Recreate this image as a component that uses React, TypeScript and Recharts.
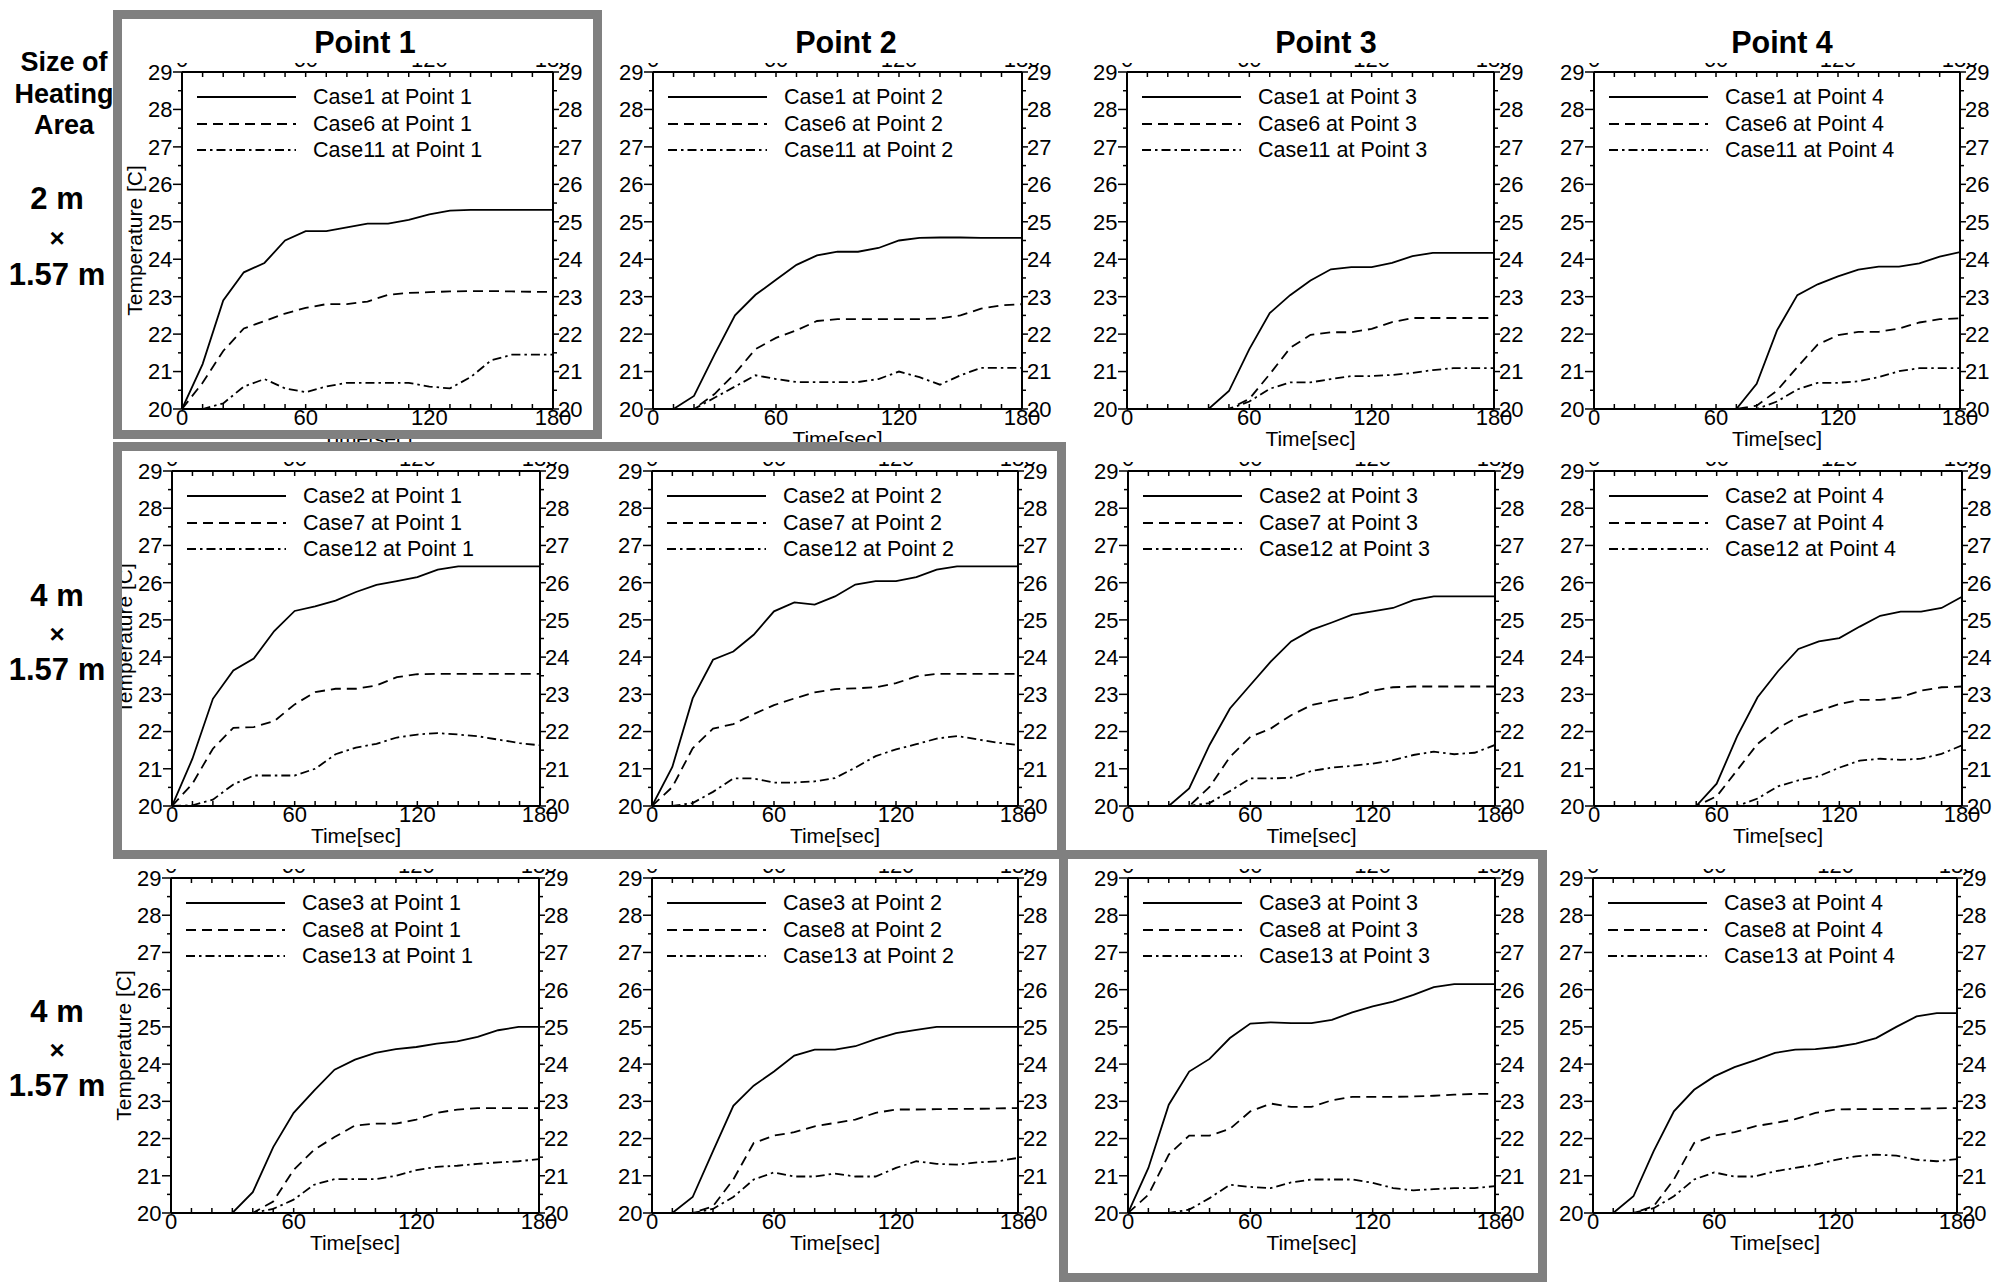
import React from 'react';
import { LineChart, Line, XAxis, YAxis, Legend } from 'recharts';

const FONT = "'Liberation Sans', Arial, Helvetica, sans-serif";

// ---------- data ----------
const TIME = [0, 10, 20, 30, 40, 50, 60, 70, 80, 90, 100, 110, 120, 130, 140, 150, 160, 170, 180];
const X_TICKS = [0, 10, 20, 30, 40, 50, 60, 70, 80, 90, 100, 110, 120, 130, 140, 150, 160, 170, 180];
const X_TICK_LABELS = [0, 60, 120, 180];
const Y_TICKS = [20, 20.5, 21, 21.5, 22, 22.5, 23, 23.5, 24, 24.5, 25, 25.5, 26, 26.5, 27, 27.5, 28, 28.5, 29];
const Y_TICK_LABELS = [20, 21, 22, 23, 24, 25, 26, 27, 28, 29];
const POINTS = ['Point 1', 'Point 2', 'Point 3', 'Point 4'];
const CASES = [
  ['Case1', 'Case6', 'Case11'],
  ['Case2', 'Case7', 'Case12'],
  ['Case3', 'Case8', 'Case13'],
];
const ROW_SIZE_TOP = ['2 m', '4 m', '4 m'];
const ROW_SIZE_BOTTOM = ['1.57 m', '1.57 m', '1.57 m'];

// Row 1 : 2 m x 1.57 m
const C1P1 = [20, 21.2, 22.9, 23.65, 23.9, 24.5, 24.75, 24.75, 24.85, 24.95, 24.95, 25.05, 25.2, 25.3, 25.32, 25.32, 25.32, 25.32, 25.32];
const C6P1 = [20, 20.7, 21.55, 22.15, 22.35, 22.55, 22.7, 22.8, 22.8, 22.87, 23.05, 23.1, 23.12, 23.14, 23.15, 23.15, 23.14, 23.13, 23.13];
const C11P1 = [20, 20, 20.15, 20.6, 20.8, 20.55, 20.45, 20.6, 20.7, 20.7, 20.7, 20.7, 20.6, 20.55, 20.85, 21.3, 21.45, 21.45, 21.45];

const C1P2 = [20, 20, 20.35, 21.45, 22.5, 23.05, 23.45, 23.85, 24.1, 24.2, 24.2, 24.3, 24.5, 24.57, 24.58, 24.58, 24.57, 24.57, 24.57];
const C6P2 = [20, 20, 20, 20.4, 20.95, 21.6, 21.9, 22.1, 22.35, 22.4, 22.4, 22.4, 22.4, 22.4, 22.42, 22.5, 22.68, 22.77, 22.8];
const C11P2 = [20, 20, 20, 20.3, 20.6, 20.9, 20.8, 20.72, 20.72, 20.72, 20.72, 20.8, 21.0, 20.85, 20.65, 20.9, 21.1, 21.1, 21.1];

const C1P3 = [20, 20, 20, 20, 20, 20.48, 21.6, 22.56, 23.04, 23.43, 23.73, 23.79, 23.79, 23.9, 24.08, 24.17, 24.17, 24.17, 24.17];
const C6P3 = [20, 20, 20, 20, 20, 20, 20.27, 20.93, 21.63, 21.98, 22.05, 22.05, 22.14, 22.32, 22.43, 22.43, 22.43, 22.43, 22.43];
const C11P3 = [20, 20, 20, 20, 20, 20, 20.2, 20.54, 20.71, 20.71, 20.8, 20.88, 20.88, 20.91, 20.96, 21.04, 21.09, 21.09, 21.09];

const C1P4 = [20, 20, 20, 20, 20, 20, 20, 20, 20.67, 22.1, 23.04, 23.33, 23.54, 23.72, 23.8, 23.8, 23.89, 24.07, 24.19];
const C6P4 = [20, 20, 20, 20, 20, 20, 20, 20, 20.09, 20.49, 21.12, 21.72, 21.97, 22.06, 22.06, 22.15, 22.31, 22.4, 22.42];
const C11P4 = [20, 20, 20, 20, 20, 20, 20, 20, 20, 20.2, 20.52, 20.7, 20.7, 20.74, 20.85, 21.01, 21.09, 21.09, 21.09];

// Row 2 : 4 m x 1.57 m
const C2P1 = [20, 21.27, 22.88, 23.64, 23.96, 24.7, 25.24, 25.36, 25.52, 25.75, 25.94, 26.04, 26.15, 26.35, 26.44, 26.44, 26.44, 26.44, 26.44];
const C7P1 = [20, 20.6, 21.54, 22.1, 22.12, 22.28, 22.73, 23.06, 23.15, 23.15, 23.24, 23.46, 23.54, 23.55, 23.55, 23.55, 23.55, 23.55, 23.55];
const C12P1 = [20, 20.02, 20.17, 20.58, 20.82, 20.82, 20.82, 21.0, 21.39, 21.57, 21.67, 21.84, 21.92, 21.96, 21.92, 21.87, 21.78, 21.69, 21.63];

const C2P2 = [20, 21.05, 22.89, 23.93, 24.15, 24.6, 25.23, 25.47, 25.41, 25.63, 25.95, 26.04, 26.04, 26.15, 26.35, 26.44, 26.44, 26.44, 26.44];
const C7P2 = [20, 20.51, 21.55, 22.08, 22.2, 22.47, 22.71, 22.89, 23.05, 23.14, 23.16, 23.19, 23.3, 23.48, 23.55, 23.55, 23.55, 23.55, 23.55];
const C12P2 = [20, 20, 20.08, 20.38, 20.74, 20.74, 20.63, 20.63, 20.66, 20.75, 21.03, 21.34, 21.52, 21.66, 21.81, 21.88, 21.79, 21.7, 21.64];

const C2P3 = [20, 20, 20, 20.47, 21.64, 22.62, 23.25, 23.88, 24.42, 24.73, 24.93, 25.14, 25.23, 25.32, 25.53, 25.63, 25.63, 25.63, 25.63];
const C7P3 = [20, 20, 20, 20, 20.51, 21.32, 21.86, 22.08, 22.44, 22.71, 22.83, 22.92, 23.1, 23.19, 23.21, 23.21, 23.21, 23.21, 23.21];
const C12P3 = [20, 20, 20, 20, 20.08, 20.4, 20.74, 20.74, 20.76, 20.94, 21.03, 21.08, 21.14, 21.23, 21.37, 21.46, 21.39, 21.43, 21.64];

const C2P4 = [20, 20, 20, 20, 20, 20, 20.6, 21.87, 22.92, 23.62, 24.22, 24.42, 24.51, 24.82, 25.11, 25.22, 25.22, 25.32, 25.62];
const C7P4 = [20, 20, 20, 20, 20, 20, 20.26, 20.96, 21.67, 22.1, 22.39, 22.56, 22.74, 22.85, 22.85, 22.92, 23.1, 23.19, 23.21];
const C12P4 = [20, 20, 20, 20, 20, 20, 20, 20, 20.2, 20.53, 20.69, 20.8, 21.03, 21.22, 21.27, 21.24, 21.27, 21.4, 21.63];

// Row 3 : 4 m x 1.57 m
const C3P1 = [20, 20, 20, 20, 20.56, 21.77, 22.69, 23.29, 23.85, 24.12, 24.3, 24.4, 24.46, 24.55, 24.61, 24.73, 24.91, 25.0, 25.0];
const C8P1 = [20, 20, 20, 20, 20, 20.31, 21.16, 21.7, 22.04, 22.35, 22.4, 22.4, 22.51, 22.69, 22.78, 22.82, 22.82, 22.82, 22.82];
const C13P1 = [20, 20, 20, 20, 20, 20.11, 20.36, 20.76, 20.91, 20.91, 20.91, 21.0, 21.15, 21.24, 21.27, 21.32, 21.36, 21.39, 21.45];

const C3P2 = [20, 20, 20.43, 21.66, 22.88, 23.42, 23.8, 24.23, 24.39, 24.39, 24.48, 24.67, 24.83, 24.92, 25.0, 25.0, 25.0, 25.0, 25.0];
const C8P2 = [20, 20, 20, 20.18, 20.9, 21.88, 22.08, 22.17, 22.33, 22.42, 22.51, 22.69, 22.78, 22.78, 22.79, 22.8, 22.8, 22.81, 22.82];
const C13P2 = [20, 20, 20, 20.11, 20.43, 20.9, 21.09, 20.98, 20.98, 21.06, 20.98, 20.98, 21.21, 21.39, 21.32, 21.3, 21.36, 21.39, 21.48];

const C3P3 = [20, 21.21, 22.91, 23.8, 24.14, 24.7, 25.09, 25.12, 25.1, 25.1, 25.19, 25.39, 25.55, 25.68, 25.86, 26.07, 26.15, 26.15, 26.15];
const C8P3 = [20, 20.49, 21.57, 22.08, 22.08, 22.26, 22.73, 22.94, 22.85, 22.85, 23.03, 23.12, 23.12, 23.12, 23.13, 23.15, 23.18, 23.2, 23.2];
const C13P3 = [20, 20, 20, 20.09, 20.4, 20.76, 20.7, 20.67, 20.82, 20.9, 20.9, 20.9, 20.81, 20.67, 20.61, 20.64, 20.67, 20.67, 20.72];

const C3P4 = [20, 20, 20.45, 21.66, 22.73, 23.31, 23.67, 23.92, 24.1, 24.3, 24.39, 24.4, 24.46, 24.55, 24.7, 25.0, 25.28, 25.37, 25.37];
const C8P4 = [20, 20, 20, 20.18, 20.9, 21.88, 22.08, 22.17, 22.33, 22.42, 22.52, 22.69, 22.78, 22.79, 22.79, 22.8, 22.8, 22.81, 22.82];
const C13P4 = [20, 20, 20, 20.13, 20.45, 20.9, 21.09, 20.98, 20.98, 21.12, 21.21, 21.3, 21.43, 21.52, 21.57, 21.54, 21.43, 21.39, 21.45];

const SERIES = [
  [[C1P1, C6P1, C11P1], [C1P2, C6P2, C11P2], [C1P3, C6P3, C11P3], [C1P4, C6P4, C11P4]],
  [[C2P1, C7P1, C12P1], [C2P2, C7P2, C12P2], [C2P3, C7P3, C12P3], [C2P4, C7P4, C12P4]],
  [[C3P1, C8P1, C13P1], [C3P2, C8P2, C13P2], [C3P3, C8P3, C13P3], [C3P4, C8P4, C13P4]],
];

// ---------- layout (plot-area rectangles, page pixels) ----------
const PLOT_LEFT = [
  [182, 653, 1127, 1594],
  [172, 652, 1128, 1594],
  [171, 652, 1128, 1593],
];
const PLOT_RIGHT = [
  [553, 1022, 1494, 1960],
  [540, 1018, 1495, 1962],
  [539, 1018, 1495, 1957],
];
const PLOT_TOP = [72, 471, 878];
const PLOT_BOTTOM = [409, 806, 1213];

const DASHES = [undefined, '10 6', '9 4 2.5 4'];
const TICK_FS = 22;
const ML = 60;
const MR = 45;
const MT = 20;
const MB = 50;

const PanelLegend = ({ names }: { names: string[] }) => (
  <div style={{ fontFamily: FONT, fontSize: 21.5, color: '#000' }}>
    {names.map((n, i) => (
      <div
        key={n}
        style={{ display: 'flex', alignItems: 'center', height: 26.3, lineHeight: '26.3px', whiteSpace: 'nowrap' }}
      >
        <svg width={99} height={6} style={{ display: 'block', overflow: 'visible' }}>
          <line x1={0} x2={99} y1={3} y2={3} stroke="#000" strokeWidth={1.8} strokeDasharray={DASHES[i]} />
        </svg>
        <span style={{ marginLeft: 17 }}>{n}</span>
      </div>
    ))}
  </div>
);

function Panel({ r, c }: { r: number; c: number }) {
  const left = PLOT_LEFT[r][c];
  const w = PLOT_RIGHT[r][c] - left;
  const top = PLOT_TOP[r];
  const h = PLOT_BOTTOM[r] - top;
  const width = w + ML + MR;
  const height = h + MT + MB;
  const series = SERIES[r][c];
  const names = CASES[r].map((k) => `${k} at ${POINTS[c]}`);
  const rows = TIME.map((t, i) => ({ t, s0: series[0][i], s1: series[1][i], s2: series[2][i] }));

  const axisX0 = ML;
  const axisX1 = ML + w;
  const axisYTop = MT;
  const axisYBottom = MT + h;

  const leftTick = (p: any) => {
    const v = p.payload.value;
    const y = p.payload.coordinate ?? p.y;
    const major = Y_TICK_LABELS.includes(v);
    return (
      <g>
        <line x1={axisX0} x2={axisX0 - (major ? 9 : 4)} y1={y} y2={y} stroke="#000" strokeWidth={1.5} />
        {major && (
          <text x={axisX0 - 9.5} y={y} dy="0.36em" textAnchor="end" fontSize={TICK_FS} fontFamily={FONT} fill="#000">
            {v}
          </text>
        )}
      </g>
    );
  };
  const rightTick = (p: any) => {
    const v = p.payload.value;
    const y = p.payload.coordinate ?? p.y;
    const major = Y_TICK_LABELS.includes(v);
    return (
      <g>
        <line x1={axisX1} x2={axisX1 + (major ? 6 : 4)} y1={y} y2={y} stroke="#000" strokeWidth={1.5} />
        {major && (
          <text x={axisX1 + 5} y={y} dy="0.36em" textAnchor="start" fontSize={TICK_FS} fontFamily={FONT} fill="#000">
            {v}
          </text>
        )}
      </g>
    );
  };
  const bottomTick = (p: any) => {
    const v = p.payload.value;
    const x = p.payload.coordinate ?? p.x;
    const major = X_TICK_LABELS.includes(v);
    return (
      <g>
        <line x1={x} x2={x} y1={axisYBottom} y2={axisYBottom - 5} stroke="#000" strokeWidth={1.5} />
        {major && (
          <text x={x} y={axisYBottom + 16} textAnchor="middle" fontSize={TICK_FS} fontFamily={FONT} fill="#000">
            {v}
          </text>
        )}
      </g>
    );
  };
  // top axis: only the very bottom of each label is visible above the frame
  const topTick = (p: any) => {
    const v = p.payload.value;
    const x = p.payload.coordinate ?? p.x;
    const major = X_TICK_LABELS.includes(v);
    return (
      <g>
        <line x1={x} x2={x} y1={axisYTop} y2={axisYTop + 5} stroke="#000" strokeWidth={1.5} />
        {major && (
          <svg x={x - 40} y={axisYTop - 9} width={80} height={4} overflow="hidden" style={{ overflow: 'hidden' }}>
            <text x={40} y={4} textAnchor="middle" fontSize={TICK_FS} fontFamily={FONT} fill="#000">
              {v}
            </text>
          </svg>
        )}
      </g>
    );
  };

  const axisLine = { stroke: '#000', strokeWidth: 2 };

  return (
    <div style={{ position: 'absolute', left: left - ML, top: top - MT, width, height }}>
      <LineChart width={width} height={height} data={rows} margin={{ top: 0, right: 0, bottom: 0, left: 0 }}>
        <XAxis
          dataKey="t"
          type="number"
          domain={[0, 180]}
          ticks={X_TICKS}
          interval={0}
          height={MB}
          tickSize={0}
          tickMargin={0}
          tickLine={false}
          axisLine={axisLine}
          tick={bottomTick}
          allowDataOverflow
        />
        <XAxis
          xAxisId="top"
          orientation="top"
          dataKey="t"
          type="number"
          domain={[0, 180]}
          ticks={X_TICKS}
          interval={0}
          height={MT}
          tickSize={0}
          tickMargin={0}
          tickLine={false}
          axisLine={axisLine}
          tick={topTick}
          allowDataOverflow
        />
        <YAxis
          type="number"
          domain={[20, 29]}
          ticks={Y_TICKS}
          interval={0}
          width={ML}
          tickSize={0}
          tickMargin={0}
          tickLine={false}
          axisLine={axisLine}
          tick={leftTick}
          allowDataOverflow
        />
        <YAxis
          yAxisId="right"
          orientation="right"
          type="number"
          domain={[20, 29]}
          ticks={Y_TICKS}
          interval={0}
          width={MR}
          tickSize={0}
          tickMargin={0}
          tickLine={false}
          axisLine={axisLine}
          tick={rightTick}
          allowDataOverflow
        />
        <Legend
          layout="vertical"
          align="center"
          verticalAlign="middle"
          wrapperStyle={{ left: ML + 15, top: MT + 25.5 - 13.15, width: 330, height: 80 }}
          content={() => <PanelLegend names={names} />}
        />
        {[0, 1, 2].map((k) => (
          <Line
            key={k}
            dataKey={`s${k}`}
            name={names[k]}
            type="linear"
            stroke="#000"
            strokeWidth={1.8}
            strokeDasharray={DASHES[k]}
            dot={false}
            activeDot={false}
            isAnimationActive={false}
          />
        ))}
      </LineChart>
    </div>
  );
}

function Overlay() {
  const texts: React.ReactNode[] = [];
  for (let r = 0; r < 3; r++) {
    for (let c = 0; c < 4; c++) {
      const left = PLOT_LEFT[r][c];
      const right = PLOT_RIGHT[r][c];
      const top = PLOT_TOP[r];
      const bottom = PLOT_BOTTOM[r];
      texts.push(
        <text key={`t${r}${c}`} x={(left + right) / 2} y={bottom + 37} textAnchor="middle" fontSize={21} fontFamily={FONT} fill="#000">
          Time[sec]
        </text>
      );
      if (c === 0) {
        const bx = left - 40;
        const cy = (top + bottom) / 2;
        texts.push(
          <text
            key={`y${r}`}
            x={bx}
            y={cy}
            transform={`rotate(-90 ${bx} ${cy})`}
            textAnchor="middle"
            fontSize={21}
            fontFamily={FONT}
            fill="#000"
          >
            Temperature [C]
          </text>
        );
      }
    }
  }
  const titleX = [365, 846, 1326, 1782];
  const sizeTopY = [209, 606, 1022];
  const crossY = [247, 643, 1059];
  const sizeBotY = [285, 680, 1096];
  return (
    <svg
      width={2007}
      height={1283}
      style={{ position: 'absolute', left: 0, top: 0, pointerEvents: 'none' }}
    >
      {POINTS.map((p, i) => (
        <text key={p} x={titleX[i]} y={53} textAnchor="middle" fontSize={30.5} fontWeight="bold" fontFamily={FONT} fill="#000">
          {p}
        </text>
      ))}
      <text x={64} y={71} textAnchor="middle" fontSize={27} fontWeight="bold" fontFamily={FONT} fill="#000">Size of</text>
      <text x={64} y={103} textAnchor="middle" fontSize={27} fontWeight="bold" fontFamily={FONT} fill="#000">Heating</text>
      <text x={64} y={134} textAnchor="middle" fontSize={27} fontWeight="bold" fontFamily={FONT} fill="#000">Area</text>
      {[0, 1, 2].map((r) => (
        <g key={`s${r}`}>
          <text x={57} y={sizeTopY[r]} textAnchor="middle" fontSize={31} fontWeight="bold" fontFamily={FONT} fill="#000">
            {ROW_SIZE_TOP[r]}
          </text>
          <text x={57} y={crossY[r]} textAnchor="middle" fontSize={26} fontWeight="bold" fontFamily={FONT} fill="#000">
            ×
          </text>
          <text x={57} y={sizeBotY[r]} textAnchor="middle" fontSize={31} fontWeight="bold" fontFamily={FONT} fill="#000">
            {ROW_SIZE_BOTTOM[r]}
          </text>
        </g>
      ))}
      {texts}
      <rect x={117.5} y={14.5} width={480} height={420} fill="none" stroke="#808080" strokeWidth={9} />
      <rect x={117.5} y={446.5} width={944} height={408} fill="none" stroke="#808080" strokeWidth={9} />
      <rect x={1063.5} y={854.5} width={479} height={423} fill="none" stroke="#808080" strokeWidth={9} />
    </svg>
  );
}

export default function App() {
  const panels: React.ReactNode[] = [];
  for (let r = 0; r < 3; r++) for (let c = 0; c < 4; c++) panels.push(<Panel key={`${r}-${c}`} r={r} c={c} />);
  return (
    <div
      style={{
        position: 'absolute',
        left: 0,
        top: 0,
        width: 2007,
        height: 1283,
        background: '#fff',
        fontFamily: FONT,
        overflow: 'hidden',
      }}
    >
      {panels}
      <Overlay />
    </div>
  );
}
